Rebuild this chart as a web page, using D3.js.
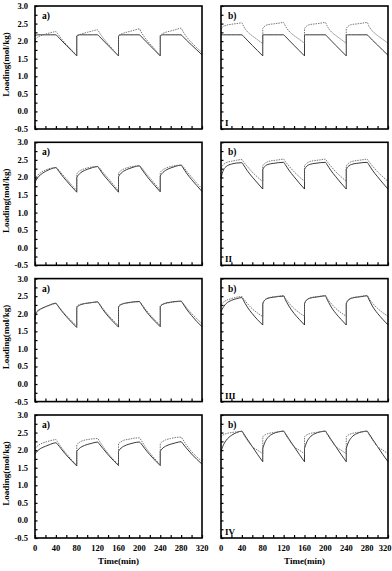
<!DOCTYPE html>
<html>
<head>
<meta charset="utf-8">
<script src="https://cdn.jsdelivr.net/npm/d3@7"></script>
<style>
  body { margin: 0; background: #fff; }
  svg { display: block; }
  text { font-family: "Liberation Serif", "Times New Roman", serif; font-weight: bold; fill: #000; }
</style>
</head>
<body>
<div id="chart"></div>
<script>
// time offsets inside one 80 min cycle, and cycle start times
const offsets = [0, 2, 5, 10, 20, 30, 40, 43, 50, 60, 70, 80];
const cycleStarts = [0, 80, 160, 240];

const xTickLabels = [0, 40, 80, 120, 160, 200, 240, 280, 320];
const yTickLabels = [3.0, 2.5, 2.0, 1.5, 1.0, 0.5, 0.0, -0.5];
const rowNames = ["I", "II", "III", "IV"];

// loading (mol/kg), one row of values per cycle
const Ia_solid = [
  [2.15, 2.17, 2.18, 2.18, 2.18, 2.18, 2.18, 2.14, 2.03, 1.88, 1.73, 1.58],
  [2.15, 2.17, 2.18, 2.18, 2.18, 2.18, 2.18, 2.14, 2.03, 1.88, 1.73, 1.58],
  [2.15, 2.17, 2.18, 2.18, 2.18, 2.18, 2.18, 2.14, 2.03, 1.88, 1.73, 1.58],
  [2.15, 2.17, 2.18, 2.18, 2.18, 2.18, 2.18, 2.14, 2.03, 1.89, 1.75, 1.61]
];
const Ia_dot = [
  [2.03, 2.07, 2.11, 2.15, 2.20, 2.24, 2.27, 2.22, 2.08, 1.91, 1.75, 1.59],
  [2.13, 2.16, 2.18, 2.21, 2.25, 2.29, 2.32, 2.25, 2.10, 1.92, 1.75, 1.58],
  [2.15, 2.18, 2.20, 2.23, 2.27, 2.31, 2.35, 2.27, 2.11, 1.93, 1.76, 1.58],
  [2.16, 2.19, 2.22, 2.25, 2.29, 2.33, 2.37, 2.29, 2.13, 1.96, 1.81, 1.68]
];
const Ib_solid = [
  [2.18, 2.18, 2.18, 2.18, 2.18, 2.18, 2.18, 2.14, 2.03, 1.88, 1.73, 1.58],
  [2.18, 2.18, 2.18, 2.18, 2.18, 2.18, 2.18, 2.14, 2.03, 1.88, 1.73, 1.58],
  [2.18, 2.18, 2.18, 2.18, 2.18, 2.18, 2.18, 2.14, 2.03, 1.88, 1.73, 1.58],
  [2.18, 2.18, 2.18, 2.18, 2.18, 2.18, 2.18, 2.14, 2.03, 1.89, 1.74, 1.60]
];
const Ib_dot = [
  [2.33, 2.38, 2.42, 2.45, 2.48, 2.50, 2.52, 2.43, 2.28, 2.15, 2.04, 1.93],
  [2.36, 2.40, 2.44, 2.47, 2.49, 2.51, 2.53, 2.44, 2.29, 2.16, 2.05, 1.94],
  [2.36, 2.40, 2.44, 2.47, 2.49, 2.51, 2.53, 2.44, 2.29, 2.16, 2.05, 1.94],
  [2.36, 2.40, 2.44, 2.47, 2.49, 2.51, 2.53, 2.44, 2.29, 2.16, 2.05, 1.94]
];
const IIa_solid = [
  [1.85, 1.92, 1.99, 2.07, 2.17, 2.24, 2.28, 2.23, 2.09, 1.91, 1.74, 1.58],
  [2.00, 2.05, 2.10, 2.16, 2.23, 2.28, 2.31, 2.25, 2.10, 1.92, 1.75, 1.58],
  [2.02, 2.07, 2.12, 2.18, 2.25, 2.30, 2.33, 2.27, 2.12, 1.93, 1.76, 1.59],
  [2.04, 2.09, 2.14, 2.20, 2.27, 2.32, 2.35, 2.29, 2.13, 1.94, 1.77, 1.60]
];
const IIa_dot = [
  [1.95, 2.00, 2.06, 2.13, 2.21, 2.26, 2.28, 2.25, 2.13, 1.96, 1.79, 1.63],
  [2.10, 2.14, 2.18, 2.22, 2.27, 2.30, 2.31, 2.28, 2.15, 1.98, 1.80, 1.63],
  [2.12, 2.16, 2.20, 2.24, 2.29, 2.32, 2.33, 2.30, 2.17, 1.99, 1.81, 1.64],
  [2.14, 2.18, 2.22, 2.26, 2.31, 2.34, 2.35, 2.32, 2.19, 2.01, 1.84, 1.68]
];
const IIb_solid = [
  [1.98, 2.10, 2.22, 2.31, 2.38, 2.41, 2.42, 2.36, 2.20, 2.01, 1.84, 1.67],
  [2.23, 2.28, 2.33, 2.37, 2.40, 2.42, 2.43, 2.37, 2.21, 2.02, 1.84, 1.67],
  [2.23, 2.28, 2.33, 2.37, 2.40, 2.42, 2.43, 2.37, 2.21, 2.02, 1.84, 1.67],
  [2.23, 2.28, 2.33, 2.37, 2.40, 2.42, 2.43, 2.37, 2.21, 2.02, 1.84, 1.67]
];
const IIb_dot = [
  [2.27, 2.32, 2.37, 2.42, 2.46, 2.49, 2.51, 2.45, 2.32, 2.15, 2.01, 1.88],
  [2.33, 2.37, 2.41, 2.45, 2.48, 2.50, 2.52, 2.46, 2.33, 2.16, 2.02, 1.89],
  [2.33, 2.37, 2.41, 2.45, 2.48, 2.50, 2.52, 2.46, 2.33, 2.16, 2.02, 1.89],
  [2.33, 2.37, 2.41, 2.45, 2.48, 2.50, 2.52, 2.46, 2.33, 2.16, 2.02, 1.89]
];
const IIIa_solid = [
  [1.83, 2.02, 2.08, 2.13, 2.20, 2.26, 2.30, 2.24, 2.10, 1.92, 1.76, 1.61],
  [2.17, 2.21, 2.24, 2.27, 2.30, 2.32, 2.34, 2.28, 2.12, 1.93, 1.77, 1.62],
  [2.19, 2.23, 2.26, 2.29, 2.32, 2.34, 2.35, 2.29, 2.13, 1.94, 1.78, 1.63],
  [2.20, 2.24, 2.27, 2.30, 2.33, 2.35, 2.36, 2.30, 2.14, 1.95, 1.78, 1.63]
];
const IIIa_dot = [
  [1.85, 2.00, 2.06, 2.12, 2.19, 2.25, 2.29, 2.25, 2.12, 1.95, 1.79, 1.65],
  [2.21, 2.24, 2.26, 2.28, 2.30, 2.32, 2.33, 2.29, 2.15, 1.97, 1.81, 1.66],
  [2.22, 2.25, 2.27, 2.29, 2.31, 2.33, 2.34, 2.30, 2.16, 1.98, 1.82, 1.67],
  [2.22, 2.25, 2.27, 2.29, 2.32, 2.34, 2.35, 2.31, 2.18, 2.01, 1.86, 1.72]
];
const IIIb_solid = [
  [2.05, 2.12, 2.20, 2.29, 2.38, 2.43, 2.46, 2.38, 2.20, 2.00, 1.83, 1.68],
  [2.28, 2.35, 2.40, 2.44, 2.47, 2.49, 2.50, 2.41, 2.22, 2.01, 1.84, 1.68],
  [2.28, 2.35, 2.40, 2.44, 2.47, 2.49, 2.51, 2.42, 2.22, 2.01, 1.84, 1.68],
  [2.28, 2.35, 2.40, 2.44, 2.47, 2.49, 2.51, 2.42, 2.22, 2.01, 1.84, 1.68]
];
const IIIb_dot = [
  [2.25, 2.29, 2.33, 2.38, 2.43, 2.47, 2.49, 2.43, 2.30, 2.14, 2.02, 1.92],
  [2.31, 2.36, 2.41, 2.45, 2.48, 2.50, 2.52, 2.45, 2.31, 2.15, 2.03, 1.93],
  [2.31, 2.36, 2.41, 2.45, 2.48, 2.50, 2.52, 2.45, 2.31, 2.15, 2.03, 1.93],
  [2.31, 2.36, 2.41, 2.45, 2.48, 2.50, 2.52, 2.45, 2.31, 2.15, 2.03, 1.93]
];
const IVa_solid = [
  [1.89, 1.93, 1.98, 2.04, 2.11, 2.17, 2.21, 2.17, 2.04, 1.86, 1.70, 1.55],
  [1.96, 2.00, 2.05, 2.10, 2.16, 2.20, 2.23, 2.18, 2.05, 1.87, 1.71, 1.56],
  [1.97, 2.01, 2.06, 2.11, 2.17, 2.21, 2.23, 2.19, 2.05, 1.87, 1.71, 1.56],
  [1.97, 2.01, 2.06, 2.11, 2.17, 2.21, 2.24, 2.19, 2.06, 1.89, 1.74, 1.60]
];
const IVa_dot = [
  [2.05, 2.08, 2.12, 2.17, 2.23, 2.27, 2.30, 2.24, 2.09, 1.90, 1.73, 1.57],
  [2.16, 2.19, 2.22, 2.26, 2.30, 2.32, 2.33, 2.27, 2.11, 1.91, 1.74, 1.58],
  [2.18, 2.21, 2.24, 2.28, 2.31, 2.34, 2.35, 2.29, 2.12, 1.92, 1.75, 1.58],
  [2.19, 2.22, 2.25, 2.29, 2.33, 2.36, 2.37, 2.31, 2.15, 1.96, 1.81, 1.68]
];
const IVb_solid = [
  [1.95, 2.05, 2.16, 2.28, 2.42, 2.50, 2.54, 2.48, 2.32, 2.10, 1.88, 1.67],
  [2.05, 2.14, 2.25, 2.36, 2.47, 2.52, 2.54, 2.48, 2.32, 2.10, 1.88, 1.67],
  [2.05, 2.14, 2.25, 2.36, 2.47, 2.52, 2.54, 2.48, 2.32, 2.10, 1.88, 1.67],
  [2.05, 2.14, 2.25, 2.36, 2.47, 2.52, 2.54, 2.48, 2.32, 2.10, 1.88, 1.67]
];
const IVb_dot = [
  [2.38, 2.41, 2.44, 2.47, 2.50, 2.52, 2.53, 2.45, 2.29, 2.10, 2.00, 1.90],
  [2.38, 2.41, 2.44, 2.47, 2.50, 2.52, 2.54, 2.46, 2.30, 2.10, 2.00, 1.90],
  [2.38, 2.41, 2.44, 2.47, 2.50, 2.52, 2.54, 2.46, 2.30, 2.10, 2.00, 1.90],
  [2.38, 2.41, 2.44, 2.47, 2.50, 2.52, 2.54, 2.46, 2.30, 2.10, 2.00, 1.90]
];

const panels = [
  [[Ia_solid, Ia_dot], [Ib_solid, Ib_dot]],
  [[IIa_solid, IIa_dot], [IIb_solid, IIb_dot]],
  [[IIIa_solid, IIIa_dot], [IIIb_solid, IIIb_dot]],
  [[IVa_solid, IVa_dot], [IVb_solid, IVb_dot]]
];

// layout
const width = 392, height = 571;
const cols = [[35, 202], [221, 388]];
const rowTop = [6, 142.3, 278.6, 415];
const plotH = 123;

const svg = d3.select("#chart").append("svg")
  .attr("width", width)
  .attr("height", height);

// build one path: smooth inside each cycle, straight jump between cycles
function cyclePath(series, x, y) {
  const line = d3.line()
    .x((d) => x(d[0]))
    .y((d) => y(d[1]))
    .curve(d3.curveMonotoneX);
  return series.map((vals, c) => {
    const pts = vals.map((v, i) => [cycleStarts[c] + offsets[i], v]);
    const s = line(pts);
    return c === 0 ? s : s.replace(/^M/, "L");
  }).join("");
}

panels.forEach((row, r) => {
  row.forEach((pair, c) => {
    const [x0, x1] = cols[c];
    const top = rowTop[r];
    const x = d3.scaleLinear().domain([0, 320]).range([x0, x1]);
    const y = d3.scaleLinear().domain([-0.5, 3.0]).range([top + plotH, top]);

    const g = svg.append("g");

    // inward ticks
    g.append("g")
      .attr("transform", `translate(0,${top + plotH})`)
      .call(d3.axisTop(x).tickValues(d3.range(0, 321, 20)).tickSize(3).tickFormat(""))
      .call((a) => a.select(".domain").remove())
      .call((a) => a.selectAll("line").attr("stroke", "#000").attr("stroke-width", 1.2));
    g.append("g")
      .attr("transform", `translate(${x0},0)`)
      .call(d3.axisRight(y).tickValues(d3.range(-0.5, 3.01, 0.25)).tickSize(2.5).tickFormat(""))
      .call((a) => a.select(".domain").remove())
      .call((a) => a.selectAll("line").attr("stroke", "#000").attr("stroke-width", 1.2));

    // curves
    g.append("path")
      .attr("d", cyclePath(pair[0], x, y))
      .attr("fill", "none")
      .attr("stroke", "#222")
      .attr("stroke-width", 0.9);
    g.append("path")
      .attr("d", cyclePath(pair[1], x, y))
      .attr("fill", "none")
      .attr("stroke", "#666")
      .attr("stroke-width", 0.9)
      .attr("stroke-dasharray", "1.5,1");

    // frame
    g.append("rect")
      .attr("x", x0).attr("y", top)
      .attr("width", x1 - x0).attr("height", plotH)
      .attr("fill", "none")
      .attr("stroke", "#000")
      .attr("stroke-width", 1.6);

    g.append("text")
      .attr("x", x0 + 7).attr("y", top + 13)
      .attr("font-size", 9.5)
      .text(c === 0 ? "a)" : "b)");

    if (c === 1) {
      g.append("text")
        .attr("x", x0 + 4).attr("y", top + plotH - 3)
        .attr("font-size", 9)
        .text(rowNames[r]);
    }

    if (c === 0) {
      g.selectAll(".ylab").data(yTickLabels).enter().append("text")
        .attr("x", x0 - 7)
        .attr("y", (d) => y(d) + 3)
        .attr("text-anchor", "end")
        .attr("font-size", 8.5)
        .text((d) => d.toFixed(1));
      g.append("text")
        .attr("transform", `translate(9,${top + plotH / 2 - 3}) rotate(-90)`)
        .attr("text-anchor", "middle")
        .attr("font-size", 9)
        .text("Loading(mol/kg)");
    }

    if (r === 3) {
      g.selectAll(".xlab").data(xTickLabels).enter().append("text")
        .attr("x", (d) => Math.min(x(d), width - 7))
        .attr("y", top + plotH + 13)
        .attr("text-anchor", "middle")
        .attr("font-size", 8.5)
        .text((d) => d);
      g.append("text")
        .attr("x", (x0 + x1) / 2)
        .attr("y", top + plotH + 26)
        .attr("text-anchor", "middle")
        .attr("font-size", 9)
        .text("Time(min)");
    }
  });
});
</script>
</body>
</html>
